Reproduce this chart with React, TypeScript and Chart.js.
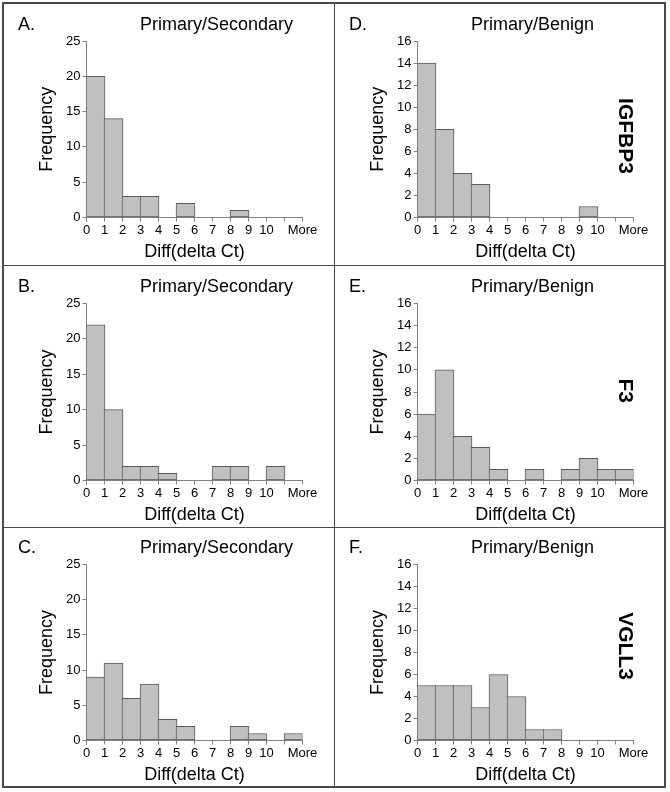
import React, { useEffect, useRef } from 'react';
import { Chart, registerables } from 'chart.js';

Chart.register(...registerables);

// ---------- data ----------
const binEdgeLabels = ['0', '1', '2', '3', '4', '5', '6', '7', '8', '9', '10', '', 'More'];

const freqA = [20, 14, 3, 3, 0, 2, 0, 0, 1, 0, 0, 0];
const freqB = [22, 10, 2, 2, 1, 0, 0, 2, 2, 0, 2, 0];
const freqC = [9, 11, 6, 8, 3, 2, 0, 0, 2, 1, 0, 1];
const freqD = [14, 8, 4, 3, 0, 0, 0, 0, 0, 1, 0, 0];
const freqE = [6, 10, 4, 3, 1, 0, 1, 0, 1, 2, 1, 1];
const freqF = [5, 5, 5, 3, 6, 4, 1, 1, 0, 0, 0, 0];

const panelLetters = ['A.', 'B.', 'C.', 'D.', 'E.', 'F.'];
const panelTitles = [
  'Primary/Secondary',
  'Primary/Secondary',
  'Primary/Secondary',
  'Primary/Benign',
  'Primary/Benign',
  'Primary/Benign',
];
const geneLabels = ['', '', '', 'IGFBP3', 'F3', 'VGLL3'];

const secondaryYMax = 25;
const secondaryYStep = 5;
const benignYMax = 16;
const benignYStep = 2;

const xAxisTitle = 'Diff(delta Ct)';
const yAxisTitle = 'Frequency';

// ---------- styles / layout ----------
const FONT = "'Liberation Sans', Arial, Helvetica, sans-serif";
const BAR_FILL = '#c0c0c0';
const BAR_EDGE = '#5a5a5a';
const AXIS_COLOR = '#808080';
const FRAME_COLOR = '#4a4a4a';

type Cell = { left: number; top: number; width: number; height: number; pad: { left: number; right: number; top: number; bottom: number } };

const colLeft = [
  { left: 0, padL: 36.5, padR: 32.5 },
  { left: 335, padL: 32.5, padR: 36.5 },
];
const rowTop = [
  { top: 0, height: 265, padT: 41, padB: 2.5 },
  { top: 265, height: 262, padT: 38.5, padB: 1.5 },
  { top: 527, height: 265, padT: 37.5, padB: 6.5 },
];
const geneCenterOffset = [0, 0, 0, 95, 87.3, 81.5];

function cellFor(col: number, row: number): Cell {
  const c = colLeft[col];
  const r = rowTop[row];
  return {
    left: c.left,
    top: r.top,
    width: 335,
    height: r.height,
    pad: { left: c.padL, right: c.padR, top: r.padT, bottom: r.padB },
  };
}

type PanelProps = {
  values: number[];
  index: number;
  yMax: number;
  yStep: number;
  cell: Cell;
};

function Panel({ values, index, yMax, yStep, cell }: PanelProps) {
  const ref = useRef<HTMLCanvasElement>(null);

  useEffect(() => {
    if (!ref.current) return;
    const letter = panelLetters[index];
    const title = panelTitles[index];
    const gene = geneLabels[index];
    const geneY = geneCenterOffset[index];

    const textPlugin = {
      id: 'panelText',
      afterDraw(chart: any) {
        const { ctx, chartArea } = chart;
        ctx.save();
        ctx.fillStyle = '#000';
        ctx.font = `18px ${FONT}`;
        ctx.textBaseline = 'alphabetic';
        ctx.textAlign = 'left';
        ctx.fillText(letter, chartArea.left - 68.5, chartArea.top - 11.5);
        ctx.fillText(title, chartArea.left + 53.5, chartArea.top - 11.5);
        if (gene) {
          ctx.translate(chartArea.left + 207.5, chartArea.top + geneY);
          ctx.rotate(Math.PI / 2);
          ctx.font = `bold 21px ${FONT}`;
          ctx.textAlign = 'center';
          ctx.textBaseline = 'middle';
          ctx.fillText(gene, 0, 0);
        }
        ctx.restore();
      },
    };

    const chart = new Chart(ref.current, {
      type: 'bar',
      data: {
        datasets: [
          {
            data: values.map((v, i) => ({ x: i + 0.5, y: v })),
            backgroundColor: BAR_FILL,
            borderColor: BAR_EDGE,
            borderWidth: 1,
            borderSkipped: false,
            barThickness: 19,
          } as any,
        ],
      },
      options: {
        animation: false,
        responsive: false,
        maintainAspectRatio: false,
        events: [],
        layout: { padding: cell.pad },
        plugins: {
          legend: { display: false },
          tooltip: { enabled: false },
          title: { display: false },
        },
        scales: {
          x: {
            type: 'linear',
            min: 0,
            max: 12,
            offset: false,
            ticks: {
              stepSize: 1,
              autoSkip: false,
              maxRotation: 0,
              minRotation: 0,
              padding: 1,
              color: '#000',
              font: { family: FONT, size: 13 },
              callback: (v: any) => binEdgeLabels[Math.round(Number(v))] ?? '',
            },
            grid: {
              offset: false,
              drawOnChartArea: false,
              drawTicks: true,
              tickLength: 4,
              color: AXIS_COLOR,
            },
            border: { display: true, color: AXIS_COLOR, width: 1 },
            title: {
              display: true,
              text: xAxisTitle,
              color: '#000',
              font: { family: FONT, size: 18 },
              padding: 0,
            },
            afterFit: (s: any) => {
              s.height = 45;
            },
          } as any,
          y: {
            type: 'linear',
            min: 0,
            max: yMax,
            ticks: {
              stepSize: yStep,
              padding: 2,
              color: '#000',
              font: { family: FONT, size: 13 },
            },
            grid: {
              drawOnChartArea: false,
              drawTicks: true,
              tickLength: 4,
              color: AXIS_COLOR,
            },
            border: { display: true, color: AXIS_COLOR, width: 1 },
            title: {
              display: true,
              text: yAxisTitle,
              color: '#000',
              font: { family: FONT, size: 18 },
              padding: 0,
            },
            afterFit: (s: any) => {
              s.width = 50;
            },
          } as any,
        },
      },
      plugins: [textPlugin],
    });
    return () => chart.destroy();
  }, [values, index, yMax, yStep, cell]);

  return (
    <canvas
      ref={ref}
      width={cell.width}
      height={cell.height}
      style={{ position: 'absolute', left: cell.left, top: cell.top, width: cell.width, height: cell.height }}
    />
  );
}

const panels = [
  { values: freqA, col: 0, row: 0, yMax: secondaryYMax, yStep: secondaryYStep },
  { values: freqB, col: 0, row: 1, yMax: secondaryYMax, yStep: secondaryYStep },
  { values: freqC, col: 0, row: 2, yMax: secondaryYMax, yStep: secondaryYStep },
  { values: freqD, col: 1, row: 0, yMax: benignYMax, yStep: benignYStep },
  { values: freqE, col: 1, row: 1, yMax: benignYMax, yStep: benignYStep },
  { values: freqF, col: 1, row: 2, yMax: benignYMax, yStep: benignYStep },
];

const cells = panels.map((p) => cellFor(p.col, p.row));

export default function App() {
  return (
    <div style={{ position: 'absolute', left: 0, top: 0, width: 670, height: 792, background: '#fff', overflow: 'hidden' }}>
      {panels.map((p, i) => (
        <Panel key={i} values={p.values} index={i} yMax={p.yMax} yStep={p.yStep} cell={cells[i]} />
      ))}
      <div style={{ position: 'absolute', left: 2, top: 2, width: 664, height: 786, border: `2px solid ${FRAME_COLOR}`, boxSizing: 'border-box', pointerEvents: 'none' }} />
      <div style={{ position: 'absolute', left: 334, top: 2, width: 1, height: 786, background: FRAME_COLOR }} />
      <div style={{ position: 'absolute', left: 2, top: 265, width: 664, height: 1, background: FRAME_COLOR }} />
      <div style={{ position: 'absolute', left: 2, top: 527, width: 664, height: 1, background: FRAME_COLOR }} />
    </div>
  );
}
